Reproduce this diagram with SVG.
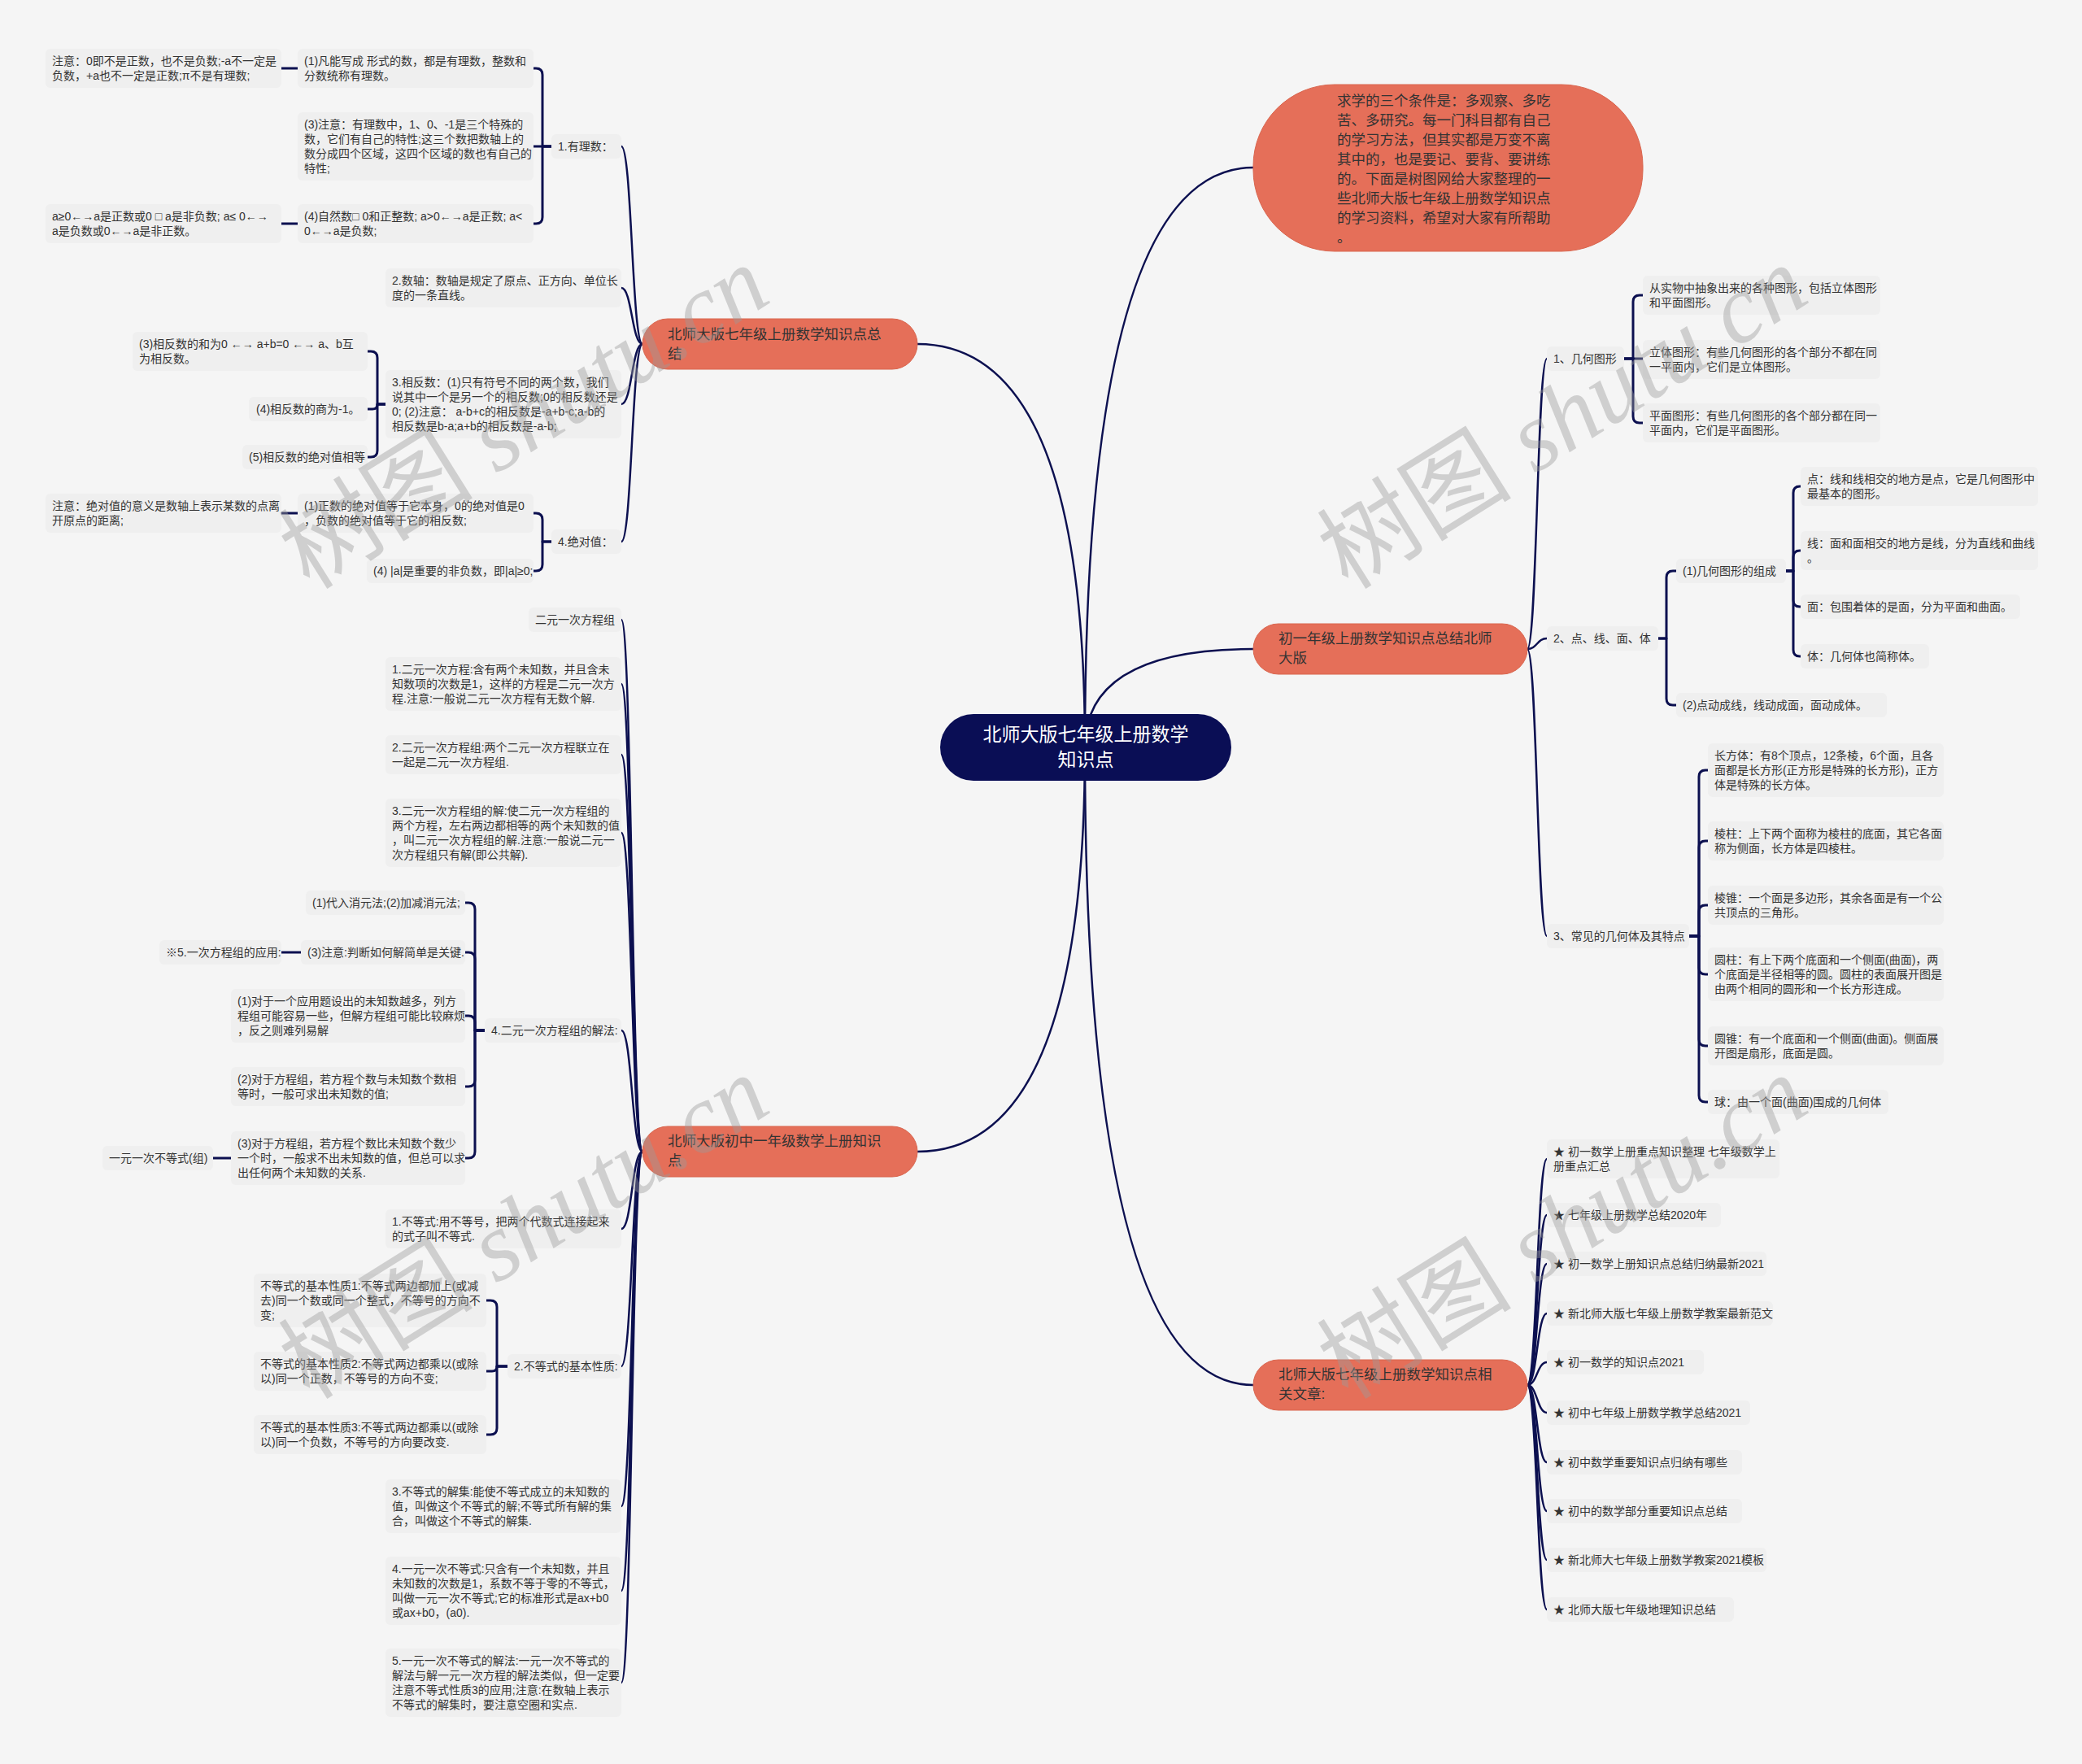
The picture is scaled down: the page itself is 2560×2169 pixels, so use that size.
<svg xmlns="http://www.w3.org/2000/svg" width="2560" height="2169" viewBox="0 0 2560 2169">
<style>
.leaf{fill:#efefef;}
.t{font-family:"Liberation Sans","Noto Sans CJK SC",sans-serif;font-size:14px;fill:#333;}
.bt{font-family:"Liberation Sans","Noto Sans CJK SC",sans-serif;font-size:17.5px;fill:#333;}
.rt{font-family:"Liberation Sans","Noto Sans CJK SC",sans-serif;font-size:23px;fill:#fff;text-anchor:middle;}
.br{fill:#e56f59;stroke:#d9664f;stroke-width:1;}
.c{fill:none;stroke:#0c1050;stroke-width:2.5;stroke-linecap:round;}
.k{fill:none;stroke:#0c1050;stroke-width:3;stroke-linecap:round;stroke-linejoin:round;}
.wm{font-size:120px;fill:#9a9a9a;fill-opacity:0.42;text-anchor:middle;}
</style>
<rect width="2560" height="2169" fill="#f5f5f5"/>

<g id="connectors">
<path class="c" d="M 1334 919 Q 1334 206 1541 206"/>
<path class="c" d="M 1334 919 Q 1334 798 1541 798"/>
<path class="c" d="M 1334 919 Q 1334 1703 1541 1703"/>
<path class="c" d="M 1334 919 Q 1334 423 1128 423"/>
<path class="c" d="M 1334 919 Q 1334 1416 1128 1416"/>
<path class="c" d="M 790 423 C 777 423 777 180 764 180"/>
<path class="c" d="M 790 423 C 777 423 777 354 764 354"/>
<path class="c" d="M 790 423 C 777 423 777 497 764 497"/>
<path class="c" d="M 790 423 C 777 423 777 666 764 666"/>
<path class="c" d="M 790 1416 C 777 1416 777 762 764 762"/>
<path class="c" d="M 790 1416 C 777 1416 777 841 764 841"/>
<path class="c" d="M 790 1416 C 777 1416 777 928 764 928"/>
<path class="c" d="M 790 1416 C 777 1416 777 1024 764 1024"/>
<path class="c" d="M 790 1416 C 777 1416 777 1267 764 1267"/>
<path class="c" d="M 790 1416 C 777 1416 777 1511 764 1511"/>
<path class="c" d="M 790 1416 C 777 1416 777 1680 764 1680"/>
<path class="c" d="M 790 1416 C 777 1416 777 1852 764 1852"/>
<path class="c" d="M 790 1416 C 777 1416 777 1956 764 1956"/>
<path class="c" d="M 790 1416 C 777 1416 777 2069 764 2069"/>
<path class="c" d="M 1878 798 C 1890 798 1890 441 1902 441"/>
<path class="c" d="M 1878 798 C 1890 798 1890 785 1902 785"/>
<path class="c" d="M 1878 798 C 1890 798 1890 1151 1902 1151"/>
<path class="c" d="M 1878 1703 C 1890 1703 1890 1425 1902 1425"/>
<path class="c" d="M 1878 1703 C 1890 1703 1890 1494 1902 1494"/>
<path class="c" d="M 1878 1703 C 1890 1703 1890 1554 1902 1554"/>
<path class="c" d="M 1878 1703 C 1890 1703 1890 1615 1902 1615"/>
<path class="c" d="M 1878 1703 C 1890 1703 1890 1675 1902 1675"/>
<path class="c" d="M 1878 1703 C 1890 1703 1890 1737 1902 1737"/>
<path class="c" d="M 1878 1703 C 1890 1703 1890 1798 1902 1798"/>
<path class="c" d="M 1878 1703 C 1890 1703 1890 1858 1902 1858"/>
<path class="c" d="M 1878 1703 C 1890 1703 1890 1918 1902 1918"/>
<path class="c" d="M 1878 1703 C 1890 1703 1890 1979 1902 1979"/>
<path class="k" d="M 678 180 H 667 V 92 Q 667 84 659 84 H 656"/>
<path class="k" d="M 678 180 H 656"/>
<path class="k" d="M 678 180 H 667 V 267 Q 667 275 659 275 H 656"/>
<path class="k" d="M 474 497 H 464 V 440 Q 464 432 456 432 H 452"/>
<path class="k" d="M 474 497 H 464 Q 464 503 458 503 H 452"/>
<path class="k" d="M 474 497 H 464 V 554 Q 464 562 456 562 H 452"/>
<path class="k" d="M 678 666 H 667 V 639 Q 667 631 659 631 H 656"/>
<path class="k" d="M 678 666 H 667 V 694 Q 667 702 659 702 H 656"/>
<path class="k" d="M 366 84 H 346"/>
<path class="k" d="M 366 275 H 346"/>
<path class="k" d="M 366 631 H 346"/>
<path class="k" d="M 596 1267 H 584 V 1118 Q 584 1110 576 1110 H 572"/>
<path class="k" d="M 596 1267 H 584 V 1179 Q 584 1171 576 1171 H 572"/>
<path class="k" d="M 596 1267 H 584 V 1257 Q 584 1249 576 1249 H 572"/>
<path class="k" d="M 596 1267 H 584 V 1328 Q 584 1336 576 1336 H 572"/>
<path class="k" d="M 596 1267 H 584 V 1416 Q 584 1424 576 1424 H 572"/>
<path class="k" d="M 370 1171 H 346"/>
<path class="k" d="M 284 1424 H 262"/>
<path class="k" d="M 624 1680 H 611 V 1607 Q 611 1599 603 1599 H 598"/>
<path class="k" d="M 624 1680 H 611 Q 611 1686 605 1686 H 598"/>
<path class="k" d="M 624 1680 H 611 V 1756 Q 611 1764 603 1764 H 598"/>
<path class="k" d="M 1997 441 H 2008 V 371 Q 2008 363 2016 363 H 2020"/>
<path class="k" d="M 1997 441 H 2020"/>
<path class="k" d="M 1997 441 H 2008 V 512 Q 2008 520 2016 520 H 2020"/>
<path class="k" d="M 2039 785 H 2049 V 710 Q 2049 702 2057 702 H 2061"/>
<path class="k" d="M 2039 785 H 2049 V 859 Q 2049 867 2057 867 H 2061"/>
<path class="k" d="M 2196 702 H 2205 V 606 Q 2205 598 2213 598 H 2214"/>
<path class="k" d="M 2196 702 H 2205 V 685 Q 2205 677 2213 677 H 2214"/>
<path class="k" d="M 2196 702 H 2205 V 738 Q 2205 746 2213 746 H 2214"/>
<path class="k" d="M 2196 702 H 2205 V 799 Q 2205 807 2213 807 H 2214"/>
<path class="k" d="M 2077 1151 H 2089 V 955 Q 2089 947 2097 947 H 2100"/>
<path class="k" d="M 2077 1151 H 2089 V 1042 Q 2089 1034 2097 1034 H 2100"/>
<path class="k" d="M 2077 1151 H 2089 V 1121 Q 2089 1113 2097 1113 H 2100"/>
<path class="k" d="M 2077 1151 H 2089 V 1190 Q 2089 1198 2097 1198 H 2100"/>
<path class="k" d="M 2077 1151 H 2089 V 1278 Q 2089 1286 2097 1286 H 2100"/>
<path class="k" d="M 2077 1151 H 2089 V 1347 Q 2089 1355 2097 1355 H 2100"/>
</g>

<g id="root"><rect x="1156" y="878" width="358" height="82" rx="41" fill="#0a0e55"/>
<text class="rt" x="1335" y="911">北师大版七年级上册数学<tspan x="1335" dy="31">知识点</tspan></text></g>

<g id="intro"><rect class="br" x="1541" y="104" width="479" height="205" rx="100" ry="100"/>
<text class="bt" x="1644" y="130">求学的三个条件是：多观察、多吃<tspan x="1644" dy="24">苦、多研究。每一门科目都有自己</tspan><tspan x="1644" dy="24">的学习方法，但其实都是万变不离</tspan><tspan x="1644" dy="24">其中的，也是要记、要背、要讲练</tspan><tspan x="1644" dy="24">的。下面是树图网给大家整理的一</tspan><tspan x="1644" dy="24">些北师大版七年级上册数学知识点</tspan><tspan x="1644" dy="24">的学习资料，希望对大家有所帮助</tspan><tspan x="1644" dy="24">。</tspan></text></g>

<g id="b2"><rect class="br" x="1541" y="767" width="337" height="62" rx="31"/>
<text class="bt" x="1572" y="791">初一年级上册数学知识点总结北师<tspan x="1572" dy="24">大版</tspan></text></g>
<g id="b3"><rect class="br" x="1541" y="1672" width="337" height="62" rx="31"/>
<text class="bt" x="1572" y="1696">北师大版七年级上册数学知识点相<tspan x="1572" dy="24">关文章:</tspan></text></g>
<g id="b4"><rect class="br" x="790" y="392" width="338" height="62" rx="31"/>
<text class="bt" x="821" y="417">北师大版七年级上册数学知识点总<tspan x="821" dy="24">结</tspan></text></g>
<g id="b5"><rect class="br" x="790" y="1385" width="338" height="62" rx="31"/>
<text class="bt" x="821" y="1409">北师大版初中一年级数学上册知识<tspan x="821" dy="24">点</tspan></text></g>

<g id="A1"><rect class="leaf" x="678" y="165" width="86" height="30" rx="6"/><text class="t" x="686" y="185">1.有理数：</text></g>
<g id="A2"><rect class="leaf" x="474" y="330" width="290" height="48" rx="6"/><text class="t" x="482" y="350">2.数轴：数轴是规定了原点、正方向、单位长<tspan x="482" dy="18">度的一条直线。</tspan></text></g>
<g id="A3"><rect class="leaf" x="474" y="455" width="290" height="84" rx="6"/><text class="t" x="482" y="475">3.相反数：(1)只有符号不同的两个数，我们<tspan x="482" dy="18">说其中一个是另一个的相反数;0的相反数还是</tspan><tspan x="482" dy="18">0; (2)注意： a-b+c的相反数是-a+b-c;a-b的</tspan><tspan x="482" dy="18">相反数是b-a;a+b的相反数是-a-b;</tspan></text></g>
<g id="A4"><rect class="leaf" x="678" y="651" width="86" height="30" rx="6"/><text class="t" x="686" y="671">4.绝对值：</text></g>
<g id="A1a"><rect class="leaf" x="366" y="60" width="290" height="48" rx="6"/><text class="t" x="374" y="80">(1)凡能写成 形式的数，都是有理数，整数和<tspan x="374" dy="18">分数统称有理数。</tspan></text></g>
<g id="A1a1"><rect class="leaf" x="56" y="60" width="290" height="48" rx="6"/><text class="t" x="64" y="80">注意：0即不是正数，也不是负数;-a不一定是<tspan x="64" dy="18">负数，+a也不一定是正数;π不是有理数;</tspan></text></g>
<g id="A1b"><rect class="leaf" x="366" y="138" width="290" height="84" rx="6"/><text class="t" x="374" y="158">(3)注意：有理数中，1、0、-1是三个特殊的<tspan x="374" dy="18">数，它们有自己的特性;这三个数把数轴上的</tspan><tspan x="374" dy="18">数分成四个区域，这四个区域的数也有自己的</tspan><tspan x="374" dy="18">特性;</tspan></text></g>
<g id="A1c"><rect class="leaf" x="366" y="251" width="290" height="48" rx="6"/><text class="t" x="374" y="271">(4)自然数□ 0和正整数; a&gt;0←→a是正数; a&lt;<tspan x="374" dy="18">0←→a是负数;</tspan></text></g>
<g id="A1c1"><rect class="leaf" x="56" y="251" width="290" height="48" rx="6"/><text class="t" x="64" y="271">a≥0←→a是正数或0 □ a是非负数; a≤ 0←→<tspan x="64" dy="18">a是负数或0←→a是非正数。</tspan></text></g>
<g id="A3a"><rect class="leaf" x="163" y="408" width="289" height="48" rx="6"/><text class="t" x="171" y="428">(3)相反数的和为0 ←→ a+b=0 ←→ a、b互<tspan x="171" dy="18">为相反数。</tspan></text></g>
<g id="A3b"><rect class="leaf" x="306" y="488" width="146" height="30" rx="6"/><text class="t" x="315" y="508">(4)相反数的商为-1。</text></g>
<g id="A3c"><rect class="leaf" x="298" y="547" width="154" height="30" rx="6"/><text class="t" x="306" y="567">(5)相反数的绝对值相等</text></g>
<g id="A4a"><rect class="leaf" x="366" y="607" width="290" height="48" rx="6"/><text class="t" x="374" y="627">(1)正数的绝对值等于它本身，0的绝对值是0<tspan x="374" dy="18">，负数的绝对值等于它的相反数;</tspan></text></g>
<g id="A4a1"><rect class="leaf" x="56" y="607" width="290" height="48" rx="6"/><text class="t" x="64" y="627">注意：绝对值的意义是数轴上表示某数的点离<tspan x="64" dy="18">开原点的距离;</tspan></text></g>
<g id="A4b"><rect class="leaf" x="451" y="687" width="205" height="30" rx="6"/><text class="t" x="459" y="707">(4) |a|是重要的非负数，即|a|≥0;</text></g>

<g id="B1"><rect class="leaf" x="650" y="747" width="114" height="30" rx="6"/><text class="t" x="658" y="767">二元一次方程组</text></g>
<g id="B2"><rect class="leaf" x="474" y="808" width="290" height="66" rx="6"/><text class="t" x="482" y="828">1.二元一次方程:含有两个未知数，并且含未<tspan x="482" dy="18">知数项的次数是1，这样的方程是二元一次方</tspan><tspan x="482" dy="18">程.注意:一般说二元一次方程有无数个解.</tspan></text></g>
<g id="B3"><rect class="leaf" x="474" y="904" width="290" height="48" rx="6"/><text class="t" x="482" y="924">2.二元一次方程组:两个二元一次方程联立在<tspan x="482" dy="18">一起是二元一次方程组.</tspan></text></g>
<g id="B4"><rect class="leaf" x="474" y="982" width="290" height="84" rx="6"/><text class="t" x="482" y="1002">3.二元一次方程组的解:使二元一次方程组的<tspan x="482" dy="18">两个方程，左右两边都相等的两个未知数的值</tspan><tspan x="482" dy="18">，叫二元一次方程组的解.注意:一般说二元一</tspan><tspan x="482" dy="18">次方程组只有解(即公共解).</tspan></text></g>
<g id="B5"><rect class="leaf" x="596" y="1252" width="168" height="30" rx="6"/><text class="t" x="604" y="1272">4.二元一次方程组的解法:</text></g>
<g id="B6"><rect class="leaf" x="474" y="1487" width="290" height="48" rx="6"/><text class="t" x="482" y="1507">1.不等式:用不等号，把两个代数式连接起来<tspan x="482" dy="18">的式子叫不等式.</tspan></text></g>
<g id="B7"><rect class="leaf" x="624" y="1665" width="140" height="30" rx="6"/><text class="t" x="632" y="1685">2.不等式的基本性质:</text></g>
<g id="B8"><rect class="leaf" x="474" y="1819" width="290" height="66" rx="6"/><text class="t" x="482" y="1839">3.不等式的解集:能使不等式成立的未知数的<tspan x="482" dy="18">值，叫做这个不等式的解;不等式所有解的集</tspan><tspan x="482" dy="18">合，叫做这个不等式的解集.</tspan></text></g>
<g id="B9"><rect class="leaf" x="474" y="1914" width="290" height="84" rx="6"/><text class="t" x="482" y="1934">4.一元一次不等式:只含有一个未知数，并且<tspan x="482" dy="18">未知数的次数是1，系数不等于零的不等式，</tspan><tspan x="482" dy="18">叫做一元一次不等式;它的标准形式是ax+b0</tspan><tspan x="482" dy="18">或ax+b0，(a0).</tspan></text></g>
<g id="B10"><rect class="leaf" x="474" y="2027" width="290" height="84" rx="6"/><text class="t" x="482" y="2047">5.一元一次不等式的解法:一元一次不等式的<tspan x="482" dy="18">解法与解一元一次方程的解法类似，但一定要</tspan><tspan x="482" dy="18">注意不等式性质3的应用;注意:在数轴上表示</tspan><tspan x="482" dy="18">不等式的解集时，要注意空圈和实点.</tspan></text></g>
<g id="B5a"><rect class="leaf" x="376" y="1095" width="196" height="30" rx="6"/><text class="t" x="384" y="1115">(1)代入消元法;(2)加减消元法;</text></g>
<g id="B5b"><rect class="leaf" x="370" y="1156" width="202" height="30" rx="6"/><text class="t" x="378" y="1176">(3)注意:判断如何解简单是关键.</text></g>
<g id="B5b1"><rect class="leaf" x="196" y="1156" width="150" height="30" rx="6"/><text class="t" x="204" y="1176">※5.一次方程组的应用:</text></g>
<g id="B5c"><rect class="leaf" x="284" y="1216" width="288" height="66" rx="6"/><text class="t" x="292" y="1236">(1)对于一个应用题设出的未知数越多，列方<tspan x="292" dy="18">程组可能容易一些，但解方程组可能比较麻烦</tspan><tspan x="292" dy="18">，反之则难列易解</tspan></text></g>
<g id="B5d"><rect class="leaf" x="284" y="1312" width="288" height="48" rx="6"/><text class="t" x="292" y="1332">(2)对于方程组，若方程个数与未知数个数相<tspan x="292" dy="18">等时，一般可求出未知数的值;</tspan></text></g>
<g id="B5e"><rect class="leaf" x="284" y="1391" width="288" height="66" rx="6"/><text class="t" x="292" y="1411">(3)对于方程组，若方程个数比未知数个数少<tspan x="292" dy="18">一个时，一般求不出未知数的值，但总可以求</tspan><tspan x="292" dy="18">出任何两个未知数的关系.</tspan></text></g>
<g id="B5e1"><rect class="leaf" x="126" y="1409" width="136" height="30" rx="6"/><text class="t" x="134" y="1429">一元一次不等式(组)</text></g>
<g id="B7a"><rect class="leaf" x="312" y="1566" width="286" height="66" rx="6"/><text class="t" x="320" y="1586">不等式的基本性质1:不等式两边都加上(或减<tspan x="320" dy="18">去)同一个数或同一个整式，不等号的方向不</tspan><tspan x="320" dy="18">变;</tspan></text></g>
<g id="B7b"><rect class="leaf" x="312" y="1662" width="286" height="48" rx="6"/><text class="t" x="320" y="1682">不等式的基本性质2:不等式两边都乘以(或除<tspan x="320" dy="18">以)同一个正数，不等号的方向不变;</tspan></text></g>
<g id="B7c"><rect class="leaf" x="312" y="1740" width="286" height="48" rx="6"/><text class="t" x="320" y="1760">不等式的基本性质3:不等式两边都乘以(或除<tspan x="320" dy="18">以)同一个负数，不等号的方向要改变.</tspan></text></g>

<g id="C1"><rect class="leaf" x="1902" y="426" width="95" height="30" rx="6"/><text class="t" x="1910" y="446">1、几何图形</text></g>
<g id="C2"><rect class="leaf" x="1902" y="770" width="137" height="30" rx="6"/><text class="t" x="1910" y="790">2、点、线、面、体</text></g>
<g id="C3"><rect class="leaf" x="1902" y="1136" width="175" height="30" rx="6"/><text class="t" x="1910" y="1156">3、常见的几何体及其特点</text></g>
<g id="C1a"><rect class="leaf" x="2020" y="339" width="292" height="48" rx="6"/><text class="t" x="2028" y="359">从实物中抽象出来的各种图形，包括立体图形<tspan x="2028" dy="18">和平面图形。</tspan></text></g>
<g id="C1b"><rect class="leaf" x="2020" y="418" width="292" height="48" rx="6"/><text class="t" x="2028" y="438">立体图形：有些几何图形的各个部分不都在同<tspan x="2028" dy="18">一平面内，它们是立体图形。</tspan></text></g>
<g id="C1c"><rect class="leaf" x="2020" y="496" width="292" height="48" rx="6"/><text class="t" x="2028" y="516">平面图形：有些几何图形的各个部分都在同一<tspan x="2028" dy="18">平面内，它们是平面图形。</tspan></text></g>
<g id="C2a"><rect class="leaf" x="2061" y="687" width="135" height="30" rx="6"/><text class="t" x="2069" y="707">(1)几何图形的组成</text></g>
<g id="C2b"><rect class="leaf" x="2061" y="852" width="259" height="30" rx="6"/><text class="t" x="2069" y="872">(2)点动成线，线动成面，面动成体。</text></g>
<g id="C2a1"><rect class="leaf" x="2214" y="574" width="292" height="48" rx="6"/><text class="t" x="2222" y="594">点：线和线相交的地方是点，它是几何图形中<tspan x="2222" dy="18">最基本的图形。</tspan></text></g>
<g id="C2a2"><rect class="leaf" x="2214" y="653" width="292" height="48" rx="6"/><text class="t" x="2222" y="673">线：面和面相交的地方是线，分为直线和曲线<tspan x="2222" dy="18">。</tspan></text></g>
<g id="C2a3"><rect class="leaf" x="2214" y="731" width="270" height="30" rx="6"/><text class="t" x="2222" y="751">面：包围着体的是面，分为平面和曲面。</text></g>
<g id="C2a4"><rect class="leaf" x="2214" y="792" width="158" height="30" rx="6"/><text class="t" x="2222" y="812">体：几何体也简称体。</text></g>
<g id="C3a"><rect class="leaf" x="2100" y="914" width="290" height="66" rx="6"/><text class="t" x="2108" y="934">长方体：有8个顶点，12条棱，6个面，且各<tspan x="2108" dy="18">面都是长方形(正方形是特殊的长方形)，正方</tspan><tspan x="2108" dy="18">体是特殊的长方体。</tspan></text></g>
<g id="C3b"><rect class="leaf" x="2100" y="1010" width="290" height="48" rx="6"/><text class="t" x="2108" y="1030">棱柱：上下两个面称为棱柱的底面，其它各面<tspan x="2108" dy="18">称为侧面，长方体是四棱柱。</tspan></text></g>
<g id="C3c"><rect class="leaf" x="2100" y="1089" width="290" height="48" rx="6"/><text class="t" x="2108" y="1109">棱锥：一个面是多边形，其余各面是有一个公<tspan x="2108" dy="18">共顶点的三角形。</tspan></text></g>
<g id="C3d"><rect class="leaf" x="2100" y="1165" width="290" height="66" rx="6"/><text class="t" x="2108" y="1185">圆柱：有上下两个底面和一个侧面(曲面)，两<tspan x="2108" dy="18">个底面是半径相等的圆。圆柱的表面展开图是</tspan><tspan x="2108" dy="18">由两个相同的圆形和一个长方形连成。</tspan></text></g>
<g id="C3e"><rect class="leaf" x="2100" y="1262" width="290" height="48" rx="6"/><text class="t" x="2108" y="1282">圆锥：有一个底面和一个侧面(曲面)。侧面展<tspan x="2108" dy="18">开图是扇形，底面是圆。</tspan></text></g>
<g id="C3f"><rect class="leaf" x="2100" y="1340" width="222" height="30" rx="6"/><text class="t" x="2108" y="1360">球：由一个面(曲面)围成的几何体</text></g>

<g id="D1"><rect class="leaf" x="1902" y="1401" width="286" height="48" rx="6"/><text class="t" x="1910" y="1421">★ 初一数学上册重点知识整理 七年级数学上<tspan x="1910" dy="18">册重点汇总</tspan></text></g>
<g id="D2"><rect class="leaf" x="1902" y="1479" width="214" height="30" rx="6"/><text class="t" x="1910" y="1499">★ 七年级上册数学总结2020年</text></g>
<g id="D3"><rect class="leaf" x="1902" y="1539" width="270" height="30" rx="6"/><text class="t" x="1910" y="1559">★ 初一数学上册知识点总结归纳最新2021</text></g>
<g id="D4"><rect class="leaf" x="1902" y="1600" width="278" height="30" rx="6"/><text class="t" x="1910" y="1620">★ 新北师大版七年级上册数学教案最新范文</text></g>
<g id="D5"><rect class="leaf" x="1902" y="1660" width="193" height="30" rx="6"/><text class="t" x="1910" y="1680">★ 初一数学的知识点2021</text></g>
<g id="D6"><rect class="leaf" x="1902" y="1722" width="250" height="30" rx="6"/><text class="t" x="1910" y="1742">★ 初中七年级上册数学教学总结2021</text></g>
<g id="D7"><rect class="leaf" x="1902" y="1783" width="240" height="30" rx="6"/><text class="t" x="1910" y="1803">★ 初中数学重要知识点归纳有哪些</text></g>
<g id="D8"><rect class="leaf" x="1902" y="1843" width="240" height="30" rx="6"/><text class="t" x="1910" y="1863">★ 初中的数学部分重要知识点总结</text></g>
<g id="D9"><rect class="leaf" x="1902" y="1903" width="270" height="30" rx="6"/><text class="t" x="1910" y="1923">★ 新北师大七年级上册数学教案2021模板</text></g>
<g id="D10"><rect class="leaf" x="1902" y="1964" width="230" height="30" rx="6"/><text class="t" x="1910" y="1984">★ 北师大版七年级地理知识总结</text></g>

<g id="watermarks" font-family="'Liberation Serif','Noto Sans CJK SC',serif">
<text class="wm" transform="translate(645 514) rotate(-32)" y="40"><tspan>树图</tspan><tspan font-style="italic"> shutu.cn</tspan></text>
<text class="wm" transform="translate(1922 514) rotate(-32)" y="40"><tspan>树图</tspan><tspan font-style="italic"> shutu.cn</tspan></text>
<text class="wm" transform="translate(645 1510) rotate(-32)" y="40"><tspan>树图</tspan><tspan font-style="italic"> shutu.cn</tspan></text>
<text class="wm" transform="translate(1922 1510) rotate(-32)" y="40"><tspan>树图</tspan><tspan font-style="italic"> shutu.cn</tspan></text>
</g>
</svg>
